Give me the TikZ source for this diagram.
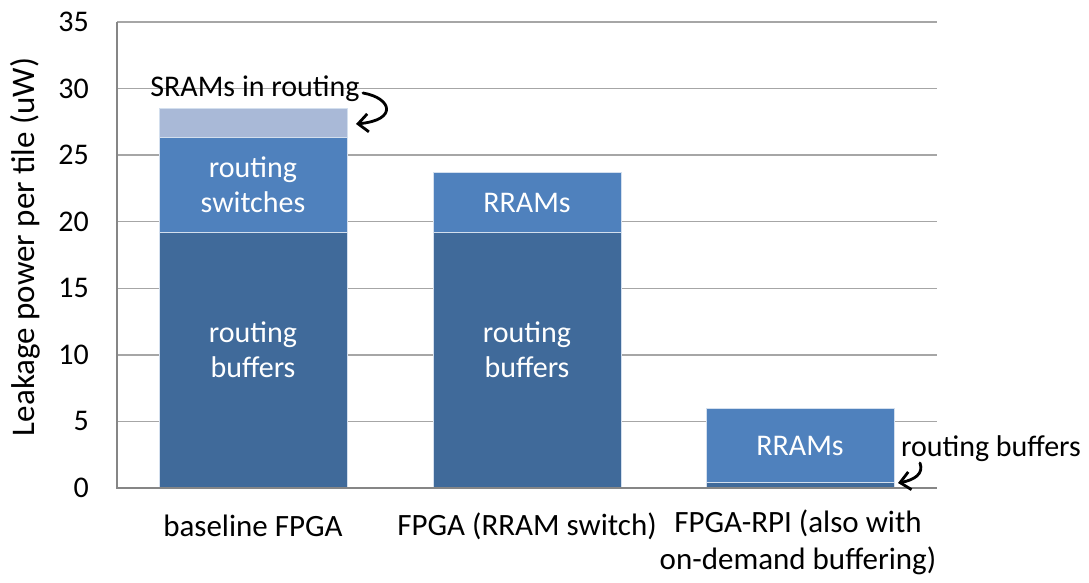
\documentclass[tikz,border=0pt]{standalone}
\usepackage{fontspec}
\setmainfont{Carlito}
\usetikzlibrary{arrows.meta}
\definecolor{bufblue}{HTML}{406A9A}
\definecolor{midblue}{HTML}{4F81BD}
\definecolor{lightblue}{HTML}{A9B9D7}
\definecolor{gridgray}{HTML}{A6A6A6}
\definecolor{axisgray}{HTML}{868686}
\tikzset{
  seg/.style={draw=white!75!midblue, line width=0.8pt},
  inlabel/.style={text=white, font=\fontsize{30}{35}\selectfont, align=center},
  ticklabel/.style={anchor=east, font=\fontsize{30}{34}\selectfont, inner sep=0pt},
  catlabel/.style={font=\fontsize{31}{37}\selectfont, align=center, inner sep=0pt},
  note/.style={font=\fontsize{30}{34}\selectfont, inner sep=0pt},
  curly/.style={line width=2.8pt, line cap=round, -{Straight Barb[length=10pt,width=18pt]}}
}
\begin{document}
\begin{tikzpicture}[x=1pt,y=-1pt]
\useasboundingbox (0,0) rectangle (1089,582);
% horizontal grid lines and tick labels, every 5 units
\foreach \v in {5,10,...,35}{
  \draw[gridgray, line width=1.5pt] (117,{488-\v*13.314}) -- (937,{488-\v*13.314});
}
\foreach \v in {0,5,...,35}{
  \node[ticklabel] (t\v) at (89,{488-\v*13.314}) {\v};
}
% baseline FPGA
\fill[bufblue, seg] (159,488) rectangle (347,232.4);
\fill[midblue, seg] (159,232.4) rectangle (347,137.8);
\fill[lightblue, seg] (159,137.8) rectangle (347,108.6);
% FPGA (RRAM switch)
\fill[bufblue, seg] (433,488) rectangle (621,232.4);
\fill[midblue, seg] (433,232.4) rectangle (621,172.5);
% FPGA-RPI
\fill[midblue, seg] (706,482.7) rectangle (894,408.1);
\fill[bufblue, seg] (706,488) rectangle (894,482.7);
% axes
\draw[axisgray, line width=2pt] (117,22) -- (117,488) -- (937,488);
% labels inside the bars
\node[inlabel] (b1s) at (253,185) {routing\\switches};
\node[inlabel] (b1b) at (253,350) {routing\\buffers};
\node[inlabel] (b2r) at (527,203) {RRAMs};
\node[inlabel] (b2b) at (527,350) {routing\\buffers};
\node[inlabel] (b3r) at (800,446) {RRAMs};
% category labels
\node[catlabel] (c1) at (253,526) {baseline FPGA};
\node[catlabel] (c2) at (527,526) {FPGA (RRAM switch)};
\node[catlabel, anchor=north] (c3) at (798,510) {FPGA-RPI (also with\\on-demand buffering)};
% axis title
\node[rotate=90, font=\fontsize{33}{38}\selectfont] (ytitle) at (25,247) {Leakage power per tile (uW)};
% callouts
\node[note] (sram) at (255,89) {SRAMs in routing};
\coordinate (sramtip) at (356,124);
\draw[curly] (363,93) .. controls (392,98) and (398,120) .. (sramtip);
\node[note] (rbuf) at (991,449) {routing buffers};
\coordinate (rbuftip) at (898,483);
\draw[curly] (920,463) .. controls (924,474) and (914,480) .. (rbuftip);
\end{tikzpicture}
\end{document}
